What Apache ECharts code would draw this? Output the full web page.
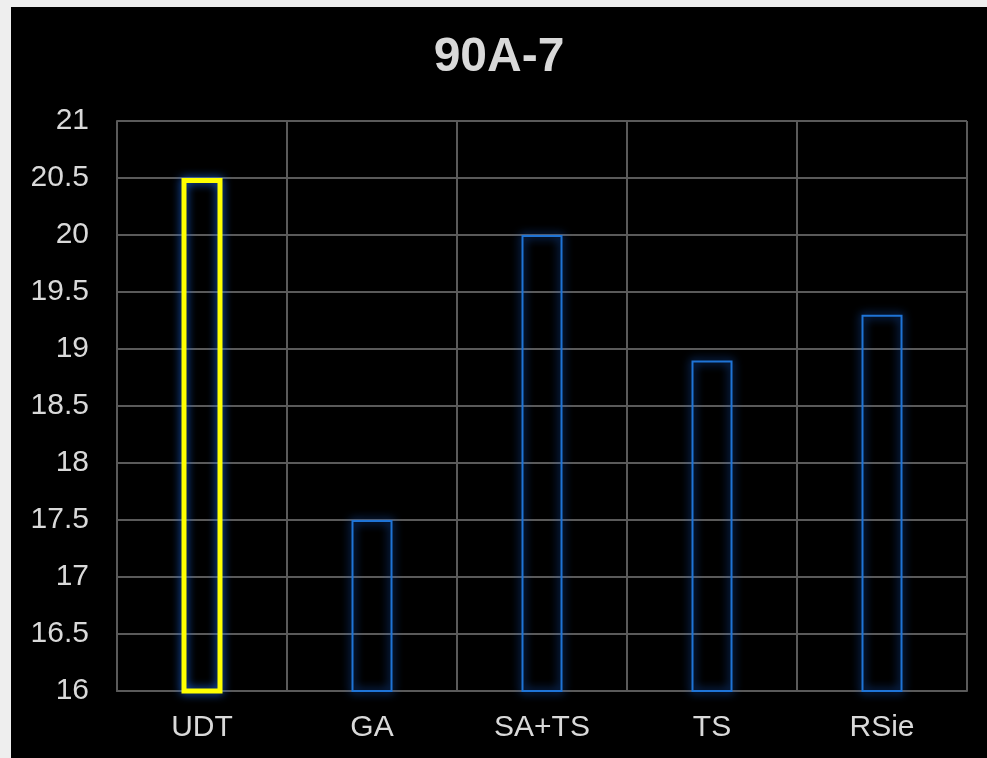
<!DOCTYPE html>
<html>
<head>
<meta charset="utf-8">
<script src="https://cdn.jsdelivr.net/npm/echarts@6/dist/echarts.min.js"></script>
<style>
  html, body {
    margin: 0;
    padding: 0;
    width: 987px;
    height: 758px;
    background: #eeeeee;
    overflow: hidden;
  }
  #chart {
    position: absolute;
    left: 11px;
    top: 7px;
    width: 976px;
    height: 751px;
    background: #000;
  }
</style>
</head>
<body>
<div id="chart"></div>
<script>
// 分类
var categories = ["UDT", "GA", "SA+TS", "TS", "RSie"];
// 数值
var values = [20.5, 17.5, 20, 18.9, 19.3];
// 轴刻度
var yMin = 16;
var yMax = 21;
var yStep = 0.5;

var chart = echarts.init(document.getElementById("chart"));

var barData = values.map(function (v, i) {
  var first = i === 0;
  return {
    value: v,
    itemStyle: {
      color: "rgba(0,0,0,0)",
      borderColor: first ? "#ffff00" : "#1f74d6",
      borderWidth: first ? 5 : 2,
      shadowColor: "#1a6cf0",
      shadowBlur: 10,
    },
  };
});

var option = {
  backgroundColor: "#000",
  animation: false,
  title: {
    text: "90A-7",
    left: "center",
    top: 22,
    textStyle: {
      color: "#d9d9d9",
      fontSize: 48,
      fontWeight: "bold",
      fontFamily: "Liberation Sans, Arial, sans-serif",
    },
  },
  grid: {
    left: 106,
    right: 20,
    top: 114,
    bottom: 67,
  },
  xAxis: {
    type: "category",
    data: categories,
    boundaryGap: true,
    axisLine: { show: true, lineStyle: { color: "#5a5a5a", width: 2 } },
    axisTick: { show: false },
    splitLine: { show: true, lineStyle: { color: "#5a5a5a", width: 2 } },
    axisLabel: {
      color: "#d9d9d9",
      fontSize: 30,
      margin: 22,
      fontFamily: "Liberation Sans, Arial, sans-serif",
    },
  },
  yAxis: {
    type: "value",
    min: yMin,
    max: yMax,
    interval: yStep,
    axisLine: { show: true, lineStyle: { color: "#5a5a5a", width: 2 } },
    axisTick: { show: false },
    splitLine: { show: true, lineStyle: { color: "#5a5a5a", width: 2 } },
    axisLabel: {
      color: "#d9d9d9",
      fontSize: 30,
      margin: 28,
      fontFamily: "Liberation Sans, Arial, sans-serif",
    },
  },
  series: [
    {
      type: "bar",
      data: barData,
      barWidth: 41,
    },
  ],
};

chart.setOption(option);
</script>
</body>
</html>
